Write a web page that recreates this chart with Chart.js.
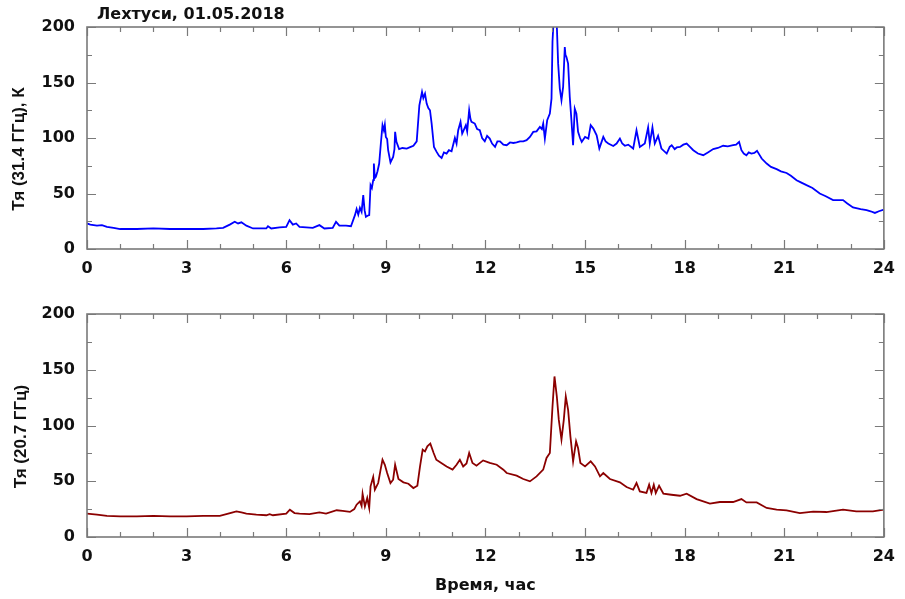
<!DOCTYPE html>
<html>
<head>
<meta charset="utf-8">
<script src="https://cdn.jsdelivr.net/npm/chart.js@4.4.1/dist/chart.umd.min.js"></script>
<style>
  html, body { margin: 0; padding: 0; background: #fff; }
  #wrap { position: relative; width: 905px; height: 599px; }
  canvas { position: absolute; left: 0; }
  #c1 { top: 0; }
  #c2 { top: 290px; }
</style>
</head>
<body>
<div id="wrap">
  <canvas id="c1" width="905" height="290"></canvas>
  <canvas id="c2" width="905" height="309"></canvas>
</div>
<script>
// ---------- data ----------
const chartTitle = "Лехтуси, 01.05.2018";
const topAxisTitle = "Тя (31.4 ГГц), К";
const bottomAxisTitle = "Тя (20.7 ГГц)";
const xAxisTitle = "Время, час";

const xMajorTicks = [0, 3, 6, 9, 12, 15, 18, 21, 24];
const yMajorTicks = [0, 50, 100, 150, 200];

// 31.4 GHz brightness temperature, K
const hours314 = [0.0,0.1,0.3,0.45,0.6,0.8,1.0,1.5,2.0,2.5,3.0,3.5,3.9,4.1,4.3,4.45,4.55,4.65,4.8,5.0,5.4,5.45,5.55,5.8,6.0,6.1,6.2,6.3,6.4,6.6,6.8,7.0,7.15,7.4,7.5,7.6,7.8,7.95,
  8.07,8.12,8.17,8.22,8.27,8.32,8.36,8.40,8.45,8.50,8.54,8.58,8.62,8.64,8.67,8.70,8.75,8.80,8.85,8.90,8.94,8.97,9.0,9.04,9.07,9.14,9.22,9.26,9.28,9.32,9.40,9.5,9.63,9.75,9.83,9.93,
  10.01,10.09,10.13,10.18,10.23,10.28,10.33,10.38,10.45,10.53,10.6,10.68,10.75,10.83,10.9,10.98,11.08,11.13,11.18,11.25,11.3,11.33,11.41,11.45,11.51,11.55,11.58,11.68,11.75,11.83,11.9,11.98,
  12.05,12.13,12.2,12.29,12.36,12.44,12.54,12.64,12.74,12.84,12.94,13.04,13.14,13.24,13.34,13.44,13.54,13.64,13.7,13.74,13.79,13.86,13.94,13.99,
  14.02,14.06,14.14,14.19,14.24,14.29,14.34,14.39,14.41,14.44,14.49,14.54,14.59,14.64,14.69,14.74,14.79,14.85,14.90,
  15.0,15.1,15.17,15.25,15.35,15.43,15.55,15.62,15.70,15.85,15.95,16.05,16.12,16.2,16.3,16.45,16.55,16.65,16.8,16.90,16.95,17.03,17.1,17.2,17.3,17.46,17.55,17.61,17.7,17.76,17.86,17.96,
  18.06,18.16,18.26,18.4,18.56,18.7,18.86,19.0,19.16,19.3,19.46,19.55,19.64,19.71,19.78,19.86,19.93,20.01,20.1,20.18,20.25,20.32,20.47,20.6,20.77,20.9,
  21.07,21.2,21.37,21.5,21.67,21.85,22.07,22.25,22.47,22.6,22.77,22.9,23.07,23.3,23.48,23.6,23.73,23.85,24.0];
const temps314 = [23,22,21,21.5,20,19,18,18,18.5,18,18,18,18.5,19,22,24.5,23,24,21,18.5,18.5,20.5,18.5,19.5,20,26,22,23,20,19.5,19,21.5,18.5,19,24.5,21,21,20.5,
  30.5,36,31,37,33.5,48.5,35,29,30,30.5,57.5,55,62,77,64,65,70,77,95,111.5,107,112,101,99,89,78,83,90,105.5,96.5,90,91,90.5,92,93,97,
  129.5,141.5,136,140,131,127,125,113,92,87.5,84,82,87,86,89,88,100,95,107,114.5,104,106,111.5,106,125,117,114.5,113,108,107,100,97,
  102,99.5,95,92,97,97,94,93.5,96,95.5,96,97,97,98,101,105.5,106,110,108,113,99.5,116,122,135.5,
  187,210,210,167,144.5,134,146,182,175,173,167,137,116,93.5,126.5,122,105.5,100,96.5,
  101,99.5,111.5,108.5,102.5,90.5,101,97,95,92.8,95,99.5,95,93,94,90.5,107,92,95,109.5,95,109.5,95,102,90.5,86,92,93.5,90,91.5,92,94,
  95,92,89,86,84.5,87,90,91,93,92.5,93.5,94,96.5,89,86,84.5,87,86,86.5,88.5,85,81.5,77,74,72,70,
  68.5,66,62,60,57.5,55,50,47.5,44,44,44,41,37.5,36,35,34,32.5,34,35.5];

// 20.7 GHz brightness temperature, K
const hours207 = [0.0,0.3,0.6,1.0,1.5,2.0,2.5,3.0,3.5,4.0,4.31,4.5,4.65,4.8,5.1,5.4,5.5,5.6,6.0,6.11,6.25,6.4,6.7,7.0,7.2,7.52,7.7,7.92,
  8.05,8.12,8.22,8.27,8.30,8.37,8.44,8.50,8.54,8.62,8.67,8.77,8.84,8.90,8.97,9.04,9.14,9.22,9.28,9.38,9.53,9.68,9.83,9.95,
  10.03,10.11,10.18,10.25,10.34,10.44,10.52,10.67,10.83,11.01,11.13,11.23,11.33,11.43,11.51,11.61,11.73,11.93,12.13,12.34,12.54,12.64,12.94,13.14,13.34,13.54,13.74,13.84,13.94,
  14.02,14.08,14.15,14.21,14.29,14.36,14.42,14.49,14.56,14.64,14.73,14.79,14.86,15.0,15.17,15.30,15.45,15.55,15.75,16.05,16.25,16.45,16.55,16.65,16.85,16.93,17.0,17.07,17.13,17.23,17.36,17.6,17.86,
  18.06,18.36,18.76,19.06,19.46,19.71,19.86,20.17,20.47,20.77,21.07,21.47,21.87,22.27,22.77,23.17,23.67,24.0];
const temps207 = [21,20,19,18.5,18.5,19,18.5,18.5,19,19,21.5,23,22,21,20,19.5,20.5,19.5,21,24.5,21.5,21,20.5,22,21,24,23.5,22.5,
  25,29,32,28,38.8,27.4,35,26,45.4,53.8,42.4,48.4,60,69.3,64.8,57.4,48.4,51.4,64.8,52,49,47.8,43.9,46,
  63.3,78.3,76.8,81.3,83.7,75.3,69.3,66.4,63.3,60.4,64.8,69.3,63.3,66,75.3,66.4,64,68.7,66.4,64.8,60.4,57.4,55,52,49.9,54.4,60.4,70.9,75.3,
  117,144,126,105,87.3,105,126,114,90,67.8,85.7,79.8,66.4,63.3,67.8,63.3,54.4,57.4,52,49,44.8,42.4,48.4,40.9,39.5,46.9,39.5,46.9,39.5,46,38.8,37.9,37,
  38.8,34,29.9,31.4,31.4,34,31,31,26,24.5,23.9,21.5,22.7,22.4,24.5,23,23,24.5];

// ---------- chart setup ----------
const FONT = "'DejaVu Sans', sans-serif";
const FRAME = '#7a7a7a';

function pts(xs, ys) { return xs.map((h, i) => ({ x: h, y: ys[i] })); }

const framePlugin = {
  id: 'frameTicks',
  afterDatasetsDraw(chart, args, opts) {
    const { ctx, chartArea: a, scales: { x, y } } = chart;
    ctx.save();
    ctx.strokeStyle = FRAME;
    ctx.lineWidth = 1.2;
    ctx.beginPath();
    for (let h = x.min; h <= x.max; h += 1) {
      const px = Math.round(x.getPixelForValue(h)) + 0.5;
      const L = xMajorTicks.includes(h) ? 9 : 5;
      ctx.moveTo(px, a.bottom); ctx.lineTo(px, a.bottom - L);
      ctx.moveTo(px, a.top); ctx.lineTo(px, a.top + L);
    }
    for (let v = y.min; v <= y.max; v += 25) {
      const py = Math.round(y.getPixelForValue(v)) + 0.5;
      const L = yMajorTicks.includes(v) ? 9 : 5;
      ctx.moveTo(a.left, py); ctx.lineTo(a.left + L, py);
      ctx.moveTo(a.right, py); ctx.lineTo(a.right - L, py);
    }
    ctx.stroke();
    ctx.lineWidth = 1.6;
    ctx.strokeRect(a.left, a.top, a.right - a.left, a.bottom - a.top);
    // rotated y-axis title
    ctx.fillStyle = '#111';
    ctx.font = "bold 17px 'Liberation Sans', Arial, sans-serif";
    ctx.textAlign = 'center';
    ctx.textBaseline = 'middle';
    ctx.translate(opts.titleX, (a.top + a.bottom) / 2 + opts.titleShift);
    ctx.rotate(-Math.PI / 2);
    ctx.fillText(opts.yTitle, 0, 0);
    ctx.restore();
    if (opts.chartTitle) {
      ctx.save();
      ctx.fillStyle = '#111';
      ctx.font = "bold 16px " + FONT;
      ctx.textAlign = 'left';
      ctx.textBaseline = 'middle';
      ctx.fillText(opts.chartTitle, a.left + 10, a.top - 12);
      ctx.restore();
    }
  }
};

function makeChart(canvasId, data, color, yTitle, opts) {
  return new Chart(document.getElementById(canvasId), {
    type: 'line',
    data: {
      datasets: [{
        data: data,
        borderColor: color,
        borderWidth: 1.8,
        pointRadius: 0,
        tension: 0,
        fill: false
      }]
    },
    plugins: [framePlugin],
    options: {
      responsive: false,
      animation: false,
      layout: { padding: { left: 0, right: 21, top: opts.padTop, bottom: 0 } },
      plugins: {
        legend: { display: false },
        tooltip: { enabled: false },
        frameTicks: { yTitle: yTitle, titleX: opts.titleX, titleShift: 11, chartTitle: opts.chartTitle }
      },
      scales: {
        x: {
          type: 'linear',
          min: 0, max: 24,
          afterBuildTicks: s => { s.ticks = xMajorTicks.map(v => ({ value: v })); },
          ticks: { color: '#111', font: { family: FONT, size: 16, weight: 'bold' }, padding: 10, maxRotation: 0 },
          grid: { display: false, drawTicks: false },
          border: { display: false },
          title: opts.xTitle ? { display: true, text: opts.xTitle, color: '#111', font: { family: FONT, size: 16, weight: 'bold' }, padding: { top: 0, bottom: 4 } } : { display: false },
          afterFit: s => { s.height = opts.xHeight; }
        },
        y: {
          min: 0, max: 200,
          afterBuildTicks: s => { s.ticks = yMajorTicks.map(v => ({ value: v })); },
          ticks: { color: '#111', font: { family: FONT, size: 16, weight: 'bold' }, padding: 12 },
          grid: { display: false, drawTicks: false },
          border: { display: false },
          afterFit: s => { s.width = 87; }
        }
      }
    }
  });
}

makeChart('c1', pts(hours314, temps314), '#0000ff', topAxisTitle,
  { padTop: 27, xHeight: 41, titleX: 19, chartTitle: chartTitle });
makeChart('c2', pts(hours207, temps207), '#8b0000', bottomAxisTitle,
  { padTop: 24, xHeight: 62, titleX: 21, xTitle: xAxisTitle });
</script>
</body>
</html>
